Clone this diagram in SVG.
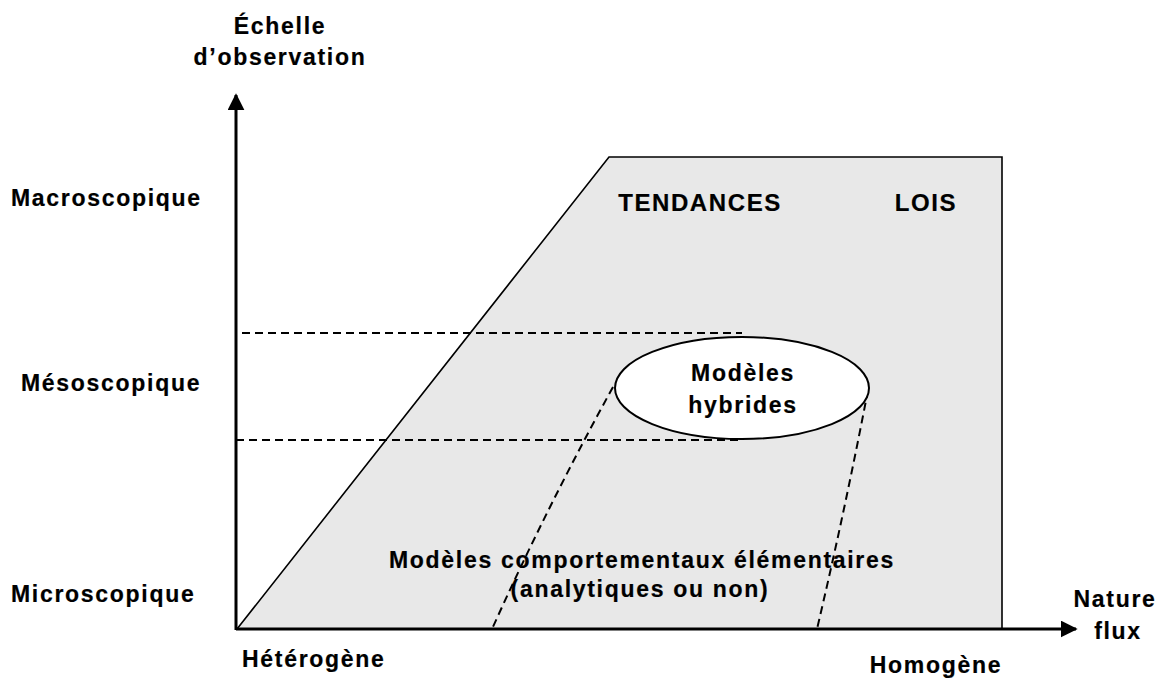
<svg xmlns="http://www.w3.org/2000/svg" width="1163" height="679" viewBox="0 0 1163 679">
<style>
text{font-family:"Liberation Sans",Arial,sans-serif;font-weight:bold;font-size:23px;letter-spacing:1.7px;fill:#000;stroke:#000;stroke-width:0.2}
.m{text-anchor:middle}
.big{font-size:24px;letter-spacing:1.6px}
.dash{fill:none;stroke:#000;stroke-width:2;stroke-dasharray:8 5}
.axis{stroke:#000;stroke-width:3;fill:none}
</style>
<defs>
<marker id="ah" viewBox="0 0 10 10" refX="9" refY="5" markerWidth="17" markerHeight="17" markerUnits="userSpaceOnUse" orient="auto">
<path d="M0,0 L10,5 L0,10 Z" fill="#000"/>
</marker>
</defs>
<rect width="1163" height="679" fill="#fff"/>
<g id="domain">
<polygon points="237,629 609,157 1002,157 1002,629" fill="#e8e8e8" stroke="#000" stroke-width="1.6"/>
</g>
<g id="connectors">
<line class="dash" x1="242" y1="333" x2="742" y2="333"/>
<line class="dash" x1="236" y1="440" x2="742" y2="440"/>
<path class="dash" d="M613,387 Q548,505 492,629"/>
<path class="dash" d="M868,390 Q845,510 817,629"/>
<line class="axis" x1="236" y1="630" x2="236" y2="95" marker-end="url(#ah)"/>
<line class="axis" x1="236" y1="629" x2="1076" y2="629" marker-end="url(#ah)"/>
</g>
<g id="hybrides">
<ellipse cx="742" cy="388" rx="127" ry="51" fill="#fff" stroke="#000" stroke-width="2"/>
<text class="m" x="743" y="381">Modèles</text>
<text class="m" x="743" y="413">hybrides</text>
</g>
<g id="labels">
<text class="m" x="280" y="34">Échelle</text>
<text class="m" x="280" y="65">d’observation</text>
<text x="11" y="206">Macroscopique</text>
<text x="21" y="391">Mésoscopique</text>
<text x="11" y="602">Microscopique</text>
<text class="m big" x="700" y="211">TENDANCES</text>
<text class="m big" x="926" y="211">LOIS</text>
<text class="m" x="642" y="568">Modèles comportementaux élémentaires</text>
<text class="m" x="640" y="597">(analytiques ou non)</text>
<text x="242" y="667">Hétérogène</text>
<text class="m" x="936" y="673">Homogène</text>
<text class="m" x="1115" y="607">Nature</text>
<text class="m" x="1118" y="639">flux</text>
</g>
</svg>
